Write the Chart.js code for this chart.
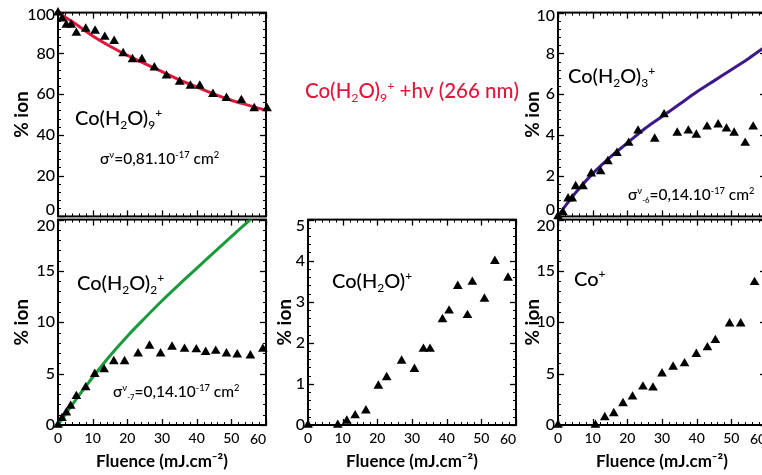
<!DOCTYPE html>
<html><head><meta charset="utf-8">
<script src="https://cdn.jsdelivr.net/npm/chart.js@4.4.1/dist/chart.umd.min.js"></script>
<style>
html,body{margin:0;padding:0;background:#fff;}
body{width:762px;height:475px;overflow:hidden;position:relative;}
canvas{position:absolute;}
.t{position:absolute;font-family:Lato,'DejaVu Sans',sans-serif;font-weight:500;white-space:nowrap;line-height:1;transform:translateY(-50%);color:#000;}
.s{position:relative;font-size:0.6em;top:0.3em;}
.p{position:relative;font-size:0.6em;top:-0.65em;}
.ss{position:relative;font-size:0.5em;top:0.45em;}
</style></head><body>
<canvas id="cA"></canvas>
<canvas id="cB"></canvas>
<canvas id="cC"></canvas>
<canvas id="cD"></canvas>
<canvas id="cE"></canvas>

<div class="t" style="left:305px;top:90px;font-size:20.5px;color:#e0163c">Co(H<span class="s">2</span>O)<span class="s">9</span><span class="p">+</span> +hν (266 nm)</div>
<div class="t" style="left:75px;top:117px;font-size:20px">Co(H<span class="s">2</span>O)<span class="s">9</span><span class="p">+</span></div>
<div class="t" style="left:100px;top:159px;font-size:15.5px">σ<span class="p">ν</span>=0,81.10<span class="p">-17</span> cm<span class="p">2</span></div>
<div class="t" style="left:568px;top:75px;font-size:20px">Co(H<span class="s">2</span>O)<span class="s">3</span><span class="p">+</span></div>
<div class="t" style="left:628px;top:195px;font-size:15.5px">σ<span class="p">ν</span><span class="ss">-6</span>=0,14.10<span class="p">-17</span> cm<span class="p">2</span></div>
<div class="t" style="left:77px;top:282px;font-size:20px">Co(H<span class="s">2</span>O)<span class="s">2</span><span class="p">+</span></div>
<div class="t" style="left:113px;top:392px;font-size:15.5px">σ<span class="p">ν</span><span class="ss">-7</span>=0,14.10<span class="p">-17</span> cm<span class="p">2</span></div>
<div class="t" style="left:332px;top:280px;font-size:20px">Co(H<span class="s">2</span>O)<span class="p">+</span></div>
<div class="t" style="left:574px;top:278px;font-size:20px">Co<span class="p">+</span></div>

<script>
// ---------- data ----------
const xTickValues = [0, 10, 20, 30, 40, 50, 60];
const yTicks9 = [0, 20, 40, 60, 80, 100];
const yTicks3 = [0, 2, 4, 6, 8, 10];
const yTicks2 = [0, 5, 10, 15, 20];
const yTicks1 = [0, 1, 2, 3, 4, 5];
const yTicksCo = [0, 5, 10, 15, 20];

// Co(H2O)9+
const fluence9 = [0, 1.2, 2.4, 3.8, 5.3, 8.0, 10.7, 13.5, 16.2, 18.8, 21.5, 24.2, 27.8, 31.3, 35.1, 38.2, 40.9, 44.7, 48.6, 52.9, 56.6, 60.3];
const ion9 = [100, 97, 94, 94, 90, 92, 91, 88, 86, 80, 77, 77, 73, 69, 66, 64, 64, 60, 58, 57, 53, 53];
const fit9X = [0, 5, 10, 15, 20, 25, 30, 35, 40, 45, 50, 55, 60];
const fit9Y = [100, 94.5, 88.5, 83.5, 79, 75, 71, 67, 63.5, 60, 57, 54.5, 52];

// Co(H2O)3+
const fluence3 = [0, 1.4, 2.9, 4.1, 5.1, 7.2, 9.6, 12.3, 14.4, 17.0, 20.4, 23.1, 27.9, 30.6, 34.4, 37.6, 39.9, 43.0, 46.2, 48.6, 50.8, 54.0, 56.3, 60.2];
const ion3 = [0, 0.2, 0.87, 0.87, 1.47, 1.47, 2.1, 2.2, 2.7, 3.1, 3.6, 4.2, 3.8, 5.0, 4.1, 4.2, 4.0, 4.4, 4.5, 4.3, 4.1, 3.6, 4.4, 4.3];
const fit3X = [0, 2.5, 5, 10, 15, 20, 25, 30, 35, 40, 45, 50, 55, 60];
const fit3Y = [0, 0.6, 1.15, 2.1, 2.9, 3.6, 4.3, 4.9, 5.5, 6.1, 6.65, 7.2, 7.75, 8.35];

// Co(H2O)2+
const fluence2 = [0, 1.15, 2.4, 3.65, 5.3, 8.0, 10.6, 13.3, 16.1, 19.2, 23.1, 26.4, 29.6, 32.9, 36.5, 39.9, 42.6, 45.5, 48.6, 51.7, 55.5, 59.1];
const ion2 = [0, 0.65, 1.2, 1.85, 2.8, 3.65, 4.95, 5.4, 6.2, 6.2, 6.95, 7.7, 6.95, 7.6, 7.4, 7.35, 7.1, 7.2, 6.95, 6.85, 6.75, 7.4];
const fit2X = [0, 5, 10, 15, 20, 25, 30, 35, 40, 45, 50, 55, 60];
const fit2Y = [0, 2.4, 4.65, 6.75, 8.65, 10.4, 12.1, 13.7, 15.25, 16.8, 18.35, 19.85, 21.3];

// Co(H2O)+
const fluence1 = [0, 8.6, 11.2, 13.6, 16.7, 20.3, 22.7, 27.0, 30.7, 33.3, 35.2, 38.8, 40.7, 43.2, 46.0, 47.4, 50.9, 53.9, 57.7];
const ion1 = [0, 0, 0.1, 0.23, 0.35, 0.95, 1.16, 1.56, 1.36, 1.85, 1.85, 2.57, 2.78, 3.38, 2.67, 3.48, 3.07, 3.99, 3.58];

// Co+
const fluenceCo = [0, 10.8, 13.5, 16.1, 18.75, 21.5, 24.5, 27.4, 30.0, 33.2, 36.5, 39.9, 43.1, 45.4, 49.5, 52.7, 56.7, 60.2];
const ionCo = [0, 0, 0.74, 1.13, 2.1, 2.75, 3.72, 3.62, 5.0, 5.66, 5.99, 6.9, 7.54, 8.25, 9.87, 9.87, 13.9, 15.3];

// ---------- styling ----------
const RED = '#e0163c', PURPLE = '#3c1a8a', GREEN = '#1b9a3c';
const FONT = 'Lato, "DejaVu Sans", sans-serif';

const toPts = (xs, ys) => xs.map((v, i) => ({x: v, y: ys[i]}));

const frameTicks = {
  id: 'frameTicks',
  beforeDatasetsDraw(chart) {
    const {ctx, chartArea: a, scales: {x, y}} = chart;
    ctx.save();
    ctx.strokeStyle = '#000';
    const seg = (x1, y1, x2, y2) => { ctx.beginPath(); ctx.moveTo(x1, y1); ctx.lineTo(x2, y2); ctx.stroke(); };
    const subs = vals => { const o = []; for (let i = 0; i < vals.length - 1; i++) { const st = (vals[i+1] - vals[i]) / 5; for (let k = 1; k < 5; k++) o.push(vals[i] + k * st); } return o; };
    const mx = x.ticks.map(t => t.value), my = y.ticks.map(t => t.value);
    ctx.lineWidth = 1.3;
    mx.forEach(v => { const p = Math.round(x.getPixelForValue(v)) + 0.5; seg(p, a.bottom, p, a.bottom - 6); seg(p, a.top, p, a.top + 6); });
    my.forEach(v => { const p = Math.round(y.getPixelForValue(v)) + 0.5; seg(a.left, p, a.left + 6, p); seg(a.right, p, a.right - 6, p); });
    ctx.lineWidth = 1;
    subs(mx).forEach(v => { const p = Math.round(x.getPixelForValue(v)) + 0.5; seg(p, a.bottom, p, a.bottom - 3); seg(p, a.top, p, a.top + 3); });
    subs(my).forEach(v => { const p = Math.round(y.getPixelForValue(v)) + 0.5; seg(a.left, p, a.left + 3, p); seg(a.right, p, a.right - 3, p); });
    ctx.lineWidth = 2;
    ctx.strokeRect(a.left, a.top, a.right - a.left, a.bottom - a.top);
    ctx.restore();
  }
};

const labelShift = {
  id: 'labelShift',
  beforeDraw(chart, args, opts) {
    const sh = opts || {};
    ['x', 'y'].forEach(k => {
      const s = chart.scales[k];
      if (!s || !s.options.ticks.display || typeof s.getLabelItems !== 'function') return;
      const items = s.getLabelItems();
      if (!items || !items.length || items._shifted) return;
      items._shifted = true;
      const f = sh[k + 'First'], l = sh[k + 'Last'];
      const mv = (it, d) => { if (it && d && it.options && it.options.translation) { it.options.translation[0] += d[0]; it.options.translation[1] += d[1]; } };
      mv(items[0], f);
      mv(items[items.length - 1], l);
    });
  }
};

function panel(p) {
  const cv = document.getElementById(p.id);
  const cl = p.frame.left - 58, ct = p.frame.top - 12;
  const w = 58 + (p.frame.right - p.frame.left) + 14;
  const h = p.bottomRow ? 475 - ct : (p.frame.bottom - ct) + 10;
  cv.width = w; cv.height = h;
  cv.style.left = cl + 'px'; cv.style.top = ct + 'px';
  cv.style.width = w + 'px'; cv.style.height = h + 'px';
  const datasets = [{
    data: toPts(p.xs, p.ys), showLine: false, pointStyle: 'triangle', pointRadius: 5.6, pointHoverRadius: 5.6,
    backgroundColor: '#000', borderColor: '#000', borderWidth: 0, order: 0, clip: false
  }];
  if (p.fx) datasets.push({
    data: toPts(p.fx, p.fy), showLine: true, borderColor: p.color, borderWidth: 3, pointRadius: 0,
    cubicInterpolationMode: 'monotone', order: 1, clip: 0, fill: false
  });
  new Chart(cv, {
    type: 'scatter',
    data: {datasets},
    options: {
      responsive: false, animation: false, devicePixelRatio: 1,
      layout: {padding: {left: 0, top: 12, right: 14, bottom: p.bottomRow ? 0 : 10}},
      plugins: {legend: {display: false}, tooltip: {enabled: false}, labelShift: p.shift},
      scales: {
        x: {
          type: 'linear', position: 'bottom', min: 0, max: 60,
          grid: {display: false, drawTicks: false, tickLength: 0}, border: {display: false},
          afterBuildTicks: s => { s.ticks = xTickValues.map(v => ({value: v})); },
          ticks: {display: p.bottomRow, autoSkip: false, maxRotation: 0, padding: 5, color: '#000', font: {family: FONT, size: 14, weight: 500}},
          title: {display: p.bottomRow, text: 'Fluence (mJ.cm⁻²)', color: '#000', font: {family: FONT, size: 17, weight: 'bold'}, padding: {top: 0, bottom: 3}},
          afterFit: s => { s.height = p.bottomRow ? 50 : 0; }
        },
        y: {
          type: 'linear', position: 'left', min: 0, max: p.yTicks[p.yTicks.length - 1],
          grid: {display: false, drawTicks: false, tickLength: 0}, border: {display: false},
          afterBuildTicks: s => { s.ticks = p.yTicks.map(v => ({value: v})); },
          ticks: {autoSkip: false, padding: 3, color: '#000', font: {family: FONT, size: 16, weight: 500}},
          title: {display: true, text: '% ion', color: '#000', font: {family: FONT, size: 19, weight: 'bold'}, padding: {top: p.titlePad, bottom: 0}},
          afterFit: s => { s.width = 58; }
        }
      }
    },
    plugins: [frameTicks, labelShift]
  });
}

panel({id: 'cA', frame: {left: 58, top: 12, right: 266, bottom: 219}, bottomRow: false, xs: fluence9, ys: ion9, fx: fit9X, fy: fit9Y, color: RED, yTicks: yTicks9, titlePad: 10.5, shift: {yFirst: [0, -7], yLast: [0, 2]}});
panel({id: 'cB', frame: {left: 558, top: 12, right: 766, bottom: 219}, bottomRow: false, xs: fluence3, ys: ion3, fx: fit3X, fy: fit3Y, color: PURPLE, yTicks: yTicks3, titlePad: 21.5, shift: {yFirst: [0, -7], yLast: [0, 3]}});
panel({id: 'cC', frame: {left: 58, top: 219, right: 266, bottom: 425}, bottomRow: true, xs: fluence2, ys: ion2, fx: fit2X, fy: fit2Y, color: GREEN, yTicks: yTicks2, titlePad: 10.5, shift: {yLast: [0, 6], xLast: [-8, 1]}});
panel({id: 'cD', frame: {left: 308, top: 219, right: 516, bottom: 425}, bottomRow: true, xs: fluence1, ys: ion1, yTicks: yTicks1, titlePad: 23, shift: {yLast: [0, 6], xLast: [-8, 1]}});
panel({id: 'cE', frame: {left: 558, top: 219, right: 766, bottom: 425}, bottomRow: true, xs: fluenceCo, ys: ionCo, yTicks: yTicksCo, titlePad: 21, shift: {yLast: [0, 6], xLast: [-8, 1]}});
</script>
</body></html>
